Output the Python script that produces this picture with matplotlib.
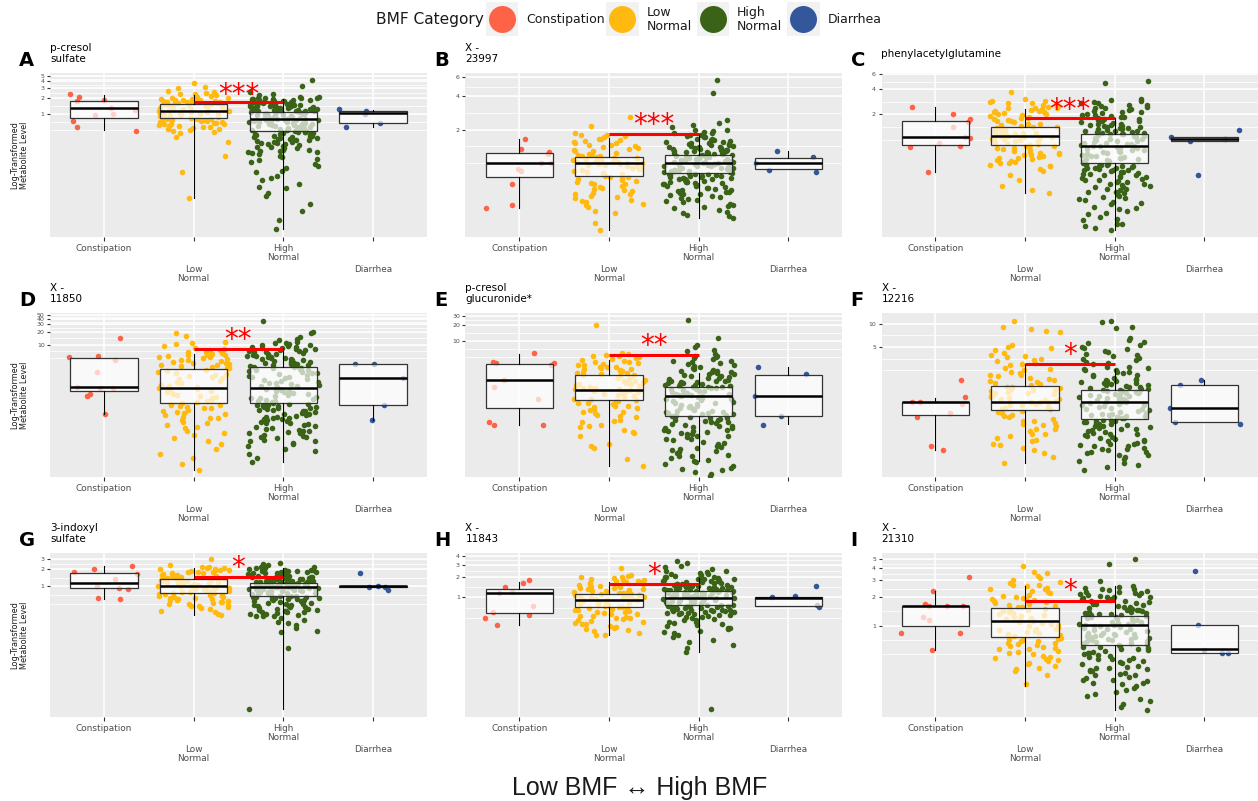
import numpy as np
import matplotlib
matplotlib.use("Agg")
import matplotlib.pyplot as plt
from matplotlib.patches import Rectangle
from matplotlib.ticker import NullLocator
from matplotlib.transforms import offset_copy


def vals(text):
    return [float(v) for v in text.split()]


group_names = ["Constipation", "Low\nNormal", "High\nNormal", "Diarrhea"]
group_colors = ["#FF6347", "#FFB90F", "#3A6317", "#33579A"]

panel_letters = list("ABCDEFGHI")
panel_titles = ["p-cresol\nsulfate", "X -\n23997", "phenylacetylglutamine",
                "X -\n11850", "p-cresol\nglucuronide*", "X -\n12216",
                "3-indoxyl\nsulfate", "X -\n11843", "X -\n21310"]
y_ticks = [[1, 2, 3, 4, 5], [2, 4, 6], [2, 4, 6], [10, 20, 30, 40, 50], [10, 20, 30],
           [5, 10], [1, 2, 3], [1, 2, 3, 4], [1, 2, 3, 4, 5]]
y_limits = [(0.0054, 5.65), (0.216, 6.45), (0.070, 6.14), (0.009, 54), (0.029, 33),
            (0.105, 13.7), (0.0054, 3.74), (0.018, 4.38), (0.11, 5.75)]
sig_levels = [1.67, 1.83, 1.79, 7.9, 5.45, 3.05, 1.43, 1.56, 1.83]
star_levels = [3.07, 2.53, 2.75, 18.6, 10.7, 4.85, 2.75, 2.7, 2.72]
star_labels = ["***", "***", "***", "**", "**", "*", "*", "*", "*"]

# ---- A: p-cresol sulfate ----
con_A = [1.76, 1.81, 1.27, 2.31, 2.03, 1.2, 0.75, 0.57, 0.49, 1.0, 0.95]
low_A = vals("3.8 3.2 3.0 2.7 2.5 2.4 2.3 2.2 2.1 2.0 2.0 1.95 1.9 1.85 1.8 1.8 1.75 1.7 1.65 1.6 1.58 1.55 "
             "1.5 1.47 1.45 1.41 1.39 1.36 1.33 1.31 1.28 1.26 1.24 1.21 1.19 1.17 1.15 1.14 1.12 1.1 1.08 1.06 "
             "1.04 1.02 1.0 0.98 0.96 0.94 0.92 0.9 0.87 0.85 "
             "0.82 0.8 0.78 0.76 0.74 0.72 0.7 0.68 0.66 0.64 0.62 0.6 0.58 0.55 0.52 0.48 0.44 0.38 0.3 0.17 0.086 0.028 "
             "2.35 2.15 1.92 1.77 1.68 1.62 1.57 1.53 0.81 0.77 0.73 0.69 0.65 0.61 0.57 0.53 0.5 0.46")
high_A = vals("4.25 3.3 2.6 2.3 2.2 2.1 2.0 2.0 1.9 1.9 1.85 1.8 1.8 1.75 1.7 1.7 1.65 1.6 1.6 1.55 1.5 1.5 1.45 "
              "1.45 1.4 1.4 1.35 1.35 1.3 1.3 1.28 1.25 1.22 1.2 1.18 1.16 1.15 1.13 1.12 1.11 "
              "1.09 1.07 1.06 1.04 1.02 1.01 0.99 0.97 0.96 0.94 0.93 0.91 0.9 0.88 0.87 0.86 0.84 0.83 0.82 0.81 "
              "0.8 0.79 0.78 0.77 0.76 0.75 0.74 0.72 0.71 0.7 0.69 0.68 0.67 0.66 0.65 0.64 0.63 0.62 0.61 0.6 "
              "0.59 0.58 0.57 0.56 0.55 0.54 0.53 0.52 0.51 0.5 "
              "0.48 0.47 0.46 0.45 0.44 0.42 0.41 0.4 0.38 0.37 0.36 0.35 0.33 0.32 0.3 0.29 0.28 0.26 0.25 0.24 "
              "0.22 0.21 0.2 0.19 0.17 0.15 0.13 0.11 0.1 0.085 0.07 0.06 0.05 0.042 0.035 0.03 0.022 0.016 0.011 0.0074 "
              "2.05 1.95 1.88 1.82 1.78 1.72 1.68 1.62 1.58 1.52 1.48 1.42 1.38 1.33 1.27 1.24 1.21 1.19 1.17 "
              "1.14 1.12 1.98 1.76 1.57 1.34 1.26 "
              "0.485 0.47 0.455 0.43 0.415 0.39 0.375 0.355 0.34 0.325 0.31 0.295 0.275 0.265 0.245 0.235 0.215 "
              "0.205 0.195 0.18 0.16 0.14 0.12 0.09 0.065 0.045")
dia_A = [0.69, 1.15, 0.57, 1.22, 1.0]
box_A = [(0.51, 0.83, 1.27, 1.76, 2.24), (0.028, 0.83, 1.14, 1.51, 2.24),
         (0.0074, 0.49, 0.8, 1.1, 1.9), (0.58, 0.69, 1.03, 1.14, 1.19)]

# ---- B: X - 23997 ----
con_B = [1.64, 1.33, 1.2, 1.26, 0.99, 0.99, 0.88, 0.84, 0.65, 0.42, 0.39]
low_B = vals("2.6 2.15 1.85 1.8 1.75 1.7 1.66 1.62 1.58 1.55 1.5 1.46 1.42 1.38 1.34 1.3 1.27 1.24 1.21 1.18 1.16 1.15 "
             "1.13 1.12 1.11 1.1 1.09 1.08 1.07 1.06 1.05 1.04 1.03 1.02 1.01 1.0 0.99 0.98 0.97 0.96 0.95 0.94 "
             "0.93 0.91 0.9 0.88 0.87 0.85 0.83 0.81 0.79 0.77 "
             "0.75 0.74 0.72 0.7 0.68 0.66 0.64 0.62 0.6 0.58 0.56 0.54 0.52 0.5 0.48 0.46 0.45 0.43 0.4 0.37 0.35 0.29 0.25 "
             "1.78 1.64 1.52 1.44 1.36 1.28 1.2 0.73 0.69 0.65 0.61 0.57 0.53 0.49 0.44 0.42")
high_B = vals("5.6 4.3 2.44 2.3 2.2 2.1 2.0 1.95 1.9 1.85 1.8 1.75 1.7 1.66 1.62 1.58 1.55 1.52 1.49 1.46 1.43 1.4 "
              "1.38 1.36 1.34 1.32 1.3 1.28 1.26 1.24 1.22 1.2 1.19 1.18 "
              "1.16 1.15 1.14 1.13 1.13 1.12 1.11 1.1 1.1 1.09 1.08 1.07 1.07 1.06 1.05 1.04 1.04 1.03 1.02 1.01 "
              "1.0 1.0 0.99 0.98 0.97 0.97 0.96 0.95 0.94 0.93 0.93 0.92 0.91 0.9 0.9 0.89 0.88 0.87 0.87 0.86 "
              "0.85 0.85 0.84 0.83 0.83 "
              "0.81 0.8 0.79 0.78 0.77 0.76 0.75 0.74 0.73 0.72 0.71 0.7 0.69 0.68 0.67 0.66 0.65 0.64 0.62 0.61 "
              "0.6 0.58 0.57 0.56 0.55 0.54 0.52 0.5 0.49 0.48 0.46 0.45 0.44 0.42 0.41 0.4 0.38 0.36 0.34 0.32 "
              "1.98 1.88 1.78 1.72 1.64 1.6 1.56 1.5 1.47 1.44 1.41 1.39 1.37 1.33 1.31 1.29 1.27 1.25 1.23 1.21 "
              "1.2 1.18 0.815 0.79 0.775 0.755 0.735 0.715 0.695 0.675 0.655 0.635 0.615 0.59 0.565 0.545 0.53 "
              "0.51 0.47 0.43 0.39 0.35 0.33")
dia_B = [1.29, 1.13, 0.99, 0.83, 0.87]
box_B = [(0.39, 0.74, 0.99, 1.22, 1.64), (0.25, 0.76, 0.99, 1.14, 1.67),
         (0.32, 0.82, 0.99, 1.17, 1.83), (0.88, 0.88, 0.99, 1.12, 1.29)]

# ---- C: phenylacetylglutamine ----
con_C = [2.47, 2.02, 1.75, 1.62, 1.41, 1.08, 1.04, 0.92, 0.81, 0.83, 0.41]
low_C = vals("3.7 3.0 2.9 2.8 2.75 2.7 2.6 2.5 2.45 2.4 2.35 2.3 2.25 2.2 2.15 2.1 2.05 2.0 1.95 1.9 1.85 1.8 1.75 "
             "1.7 1.65 1.6 1.55 1.5 1.46 "
             "1.42 1.4 1.37 1.35 1.33 1.31 1.29 1.27 1.25 1.23 1.21 1.19 1.17 1.15 1.13 1.11 1.1 1.08 1.06 1.05 "
             "1.03 1.01 1.0 0.98 0.96 0.95 0.93 0.91 0.89 0.87 "
             "0.85 0.83 0.8 0.78 0.75 0.72 0.7 0.68 0.66 0.64 0.62 0.6 0.58 0.56 0.54 0.52 0.5 0.48 0.45 0.42 "
             "0.38 0.33 0.28 0.25 0.23 "
             "2.85 2.65 2.4 2.2 2.0 1.82 1.68 1.52 0.84 0.79 0.74 0.69 0.65 0.61 0.57 0.53 0.49")
high_C = vals("5.0 4.7 3.0 2.9 2.8 2.7 2.6 2.5 2.45 2.4 2.3 2.25 2.2 2.1 2.05 2.0 1.95 1.9 1.85 1.8 1.75 1.7 1.65 "
              "1.6 1.55 1.5 1.48 1.45 1.42 1.4 1.37 1.34 1.31 1.28 1.25 1.22 1.2 1.18 "
              "1.15 1.13 1.11 1.09 1.07 1.05 1.03 1.01 0.99 0.97 0.96 0.94 0.92 0.91 0.89 0.88 0.86 0.85 0.84 "
              "0.83 0.82 0.8 0.79 0.78 0.76 0.75 0.74 0.72 0.71 0.7 0.68 0.67 0.66 0.64 0.63 0.62 0.61 0.6 0.59 "
              "0.58 0.57 0.56 0.55 0.54 0.53 "
              "0.51 0.5 0.49 0.48 0.47 0.46 0.45 0.44 0.43 0.42 0.41 0.4 0.39 0.38 0.37 0.36 0.35 0.34 0.33 0.32 "
              "0.31 0.3 0.29 0.28 0.27 0.26 0.25 0.24 0.23 0.22 0.21 0.2 0.19 0.18 0.17 0.16 0.15 0.14 0.13 0.12 "
              "0.11 0.1 0.095 0.09 0.084 "
              "2.95 2.75 2.55 2.35 2.15 1.98 1.88 1.78 1.68 1.58 1.52 1.46 1.38 1.32 1.26 1.23 1.19 1.17 "
              "0.515 0.505 0.495 0.485 0.465 0.455 0.435 0.415 0.395 0.375 0.355 0.335 0.315 0.295 0.275 0.255 "
              "0.235 0.215 0.195 0.175 0.155 0.135 0.115 0.1")
dia_C = [1.31, 1.07, 0.95, 0.38, 1.03]
box_C = [(0.41, 0.87, 1.08, 1.67, 2.47), (0.23, 0.86, 1.11, 1.43, 2.32),
         (0.084, 0.52, 0.83, 1.16, 1.8), (0.97, 0.97, 1.02, 1.07, 1.07)]

# ---- D: X - 11850 ----
con_D = [14.8, 5.5, 5.4, 4.5, 2.4, 1.05, 1.0, 1.0, 0.72, 0.66, 0.25]
low_D = vals("19 16.2 11.9 10.9 10.5 8.5 8 7.5 7 6.5 6.2 6 5.8 5.5 5.2 5 4.8 4.5 4.3 4 3.8 3.6 3.4 3.2 3.0 2.9 "
             "2.7 2.55 2.4 2.25 2.1 2.0 1.9 1.8 1.7 1.6 1.5 1.4 1.3 1.2 1.1 1.05 1.0 0.95 0.9 0.85 0.8 0.75 0.7 "
             "0.66 0.62 0.58 0.54 0.51 0.48 0.46 "
             "0.44 0.4 0.37 0.34 0.3 0.27 0.24 0.22 0.2 0.18 0.16 0.14 0.12 0.1 0.085 0.07 0.06 0.05 0.04 0.03 "
             "0.025 0.018 0.013 "
             "9.5 7.8 6.8 5.9 5.3 4.6 3.9 3.5 3.1 0.42 0.38 0.35 0.32 0.28 0.25 0.21 0.17 0.13 0.09")
high_D = vals("36.6 19.6 18.6 15.6 14 12 11.3 10.5 10 9.5 9 8.6 8.2 7.8 7.5 7.2 6.9 6.6 6.3 6 5.7 5.4 5.1 4.9 "
              "4.7 4.5 4.3 4.1 3.9 3.7 3.5 3.4 3.3 3.2 3.1 "
              "3.0 2.9 2.8 2.7 2.6 2.5 2.4 2.3 2.2 2.1 2.0 1.9 1.85 1.8 1.7 1.6 1.55 1.5 1.4 1.35 1.3 1.25 1.2 "
              "1.15 1.1 1.05 1.0 0.96 0.92 0.88 0.84 0.8 0.76 0.73 0.7 0.67 0.64 0.61 0.58 0.56 0.54 0.52 0.5 "
              "0.48 0.46 "
              "0.44 0.42 0.4 0.38 0.36 0.34 0.32 0.3 0.28 0.26 0.24 0.22 0.21 0.2 0.19 0.18 0.17 0.16 0.15 0.14 "
              "0.13 0.12 0.11 0.1 0.095 0.09 0.085 0.08 0.075 0.07 0.065 0.06 0.055 0.05 0.045 0.04 0.035 0.03 "
              "0.025 0.02 "
              "13 11 9.8 9.2 8.4 7.9 7.3 6.8 6.1 5.6 5.2 4.8 4.4 4.0 3.8 3.6 3.35 3.15 "
              "0.43 0.41 0.39 0.37 0.35 0.33 0.31 0.29 0.27 0.25 0.23 0.215 0.195 0.175 0.155 0.135 0.115 0.105 "
              "0.09 0.075 0.06")
dia_D = [3.6, 3.6, 1.7, 0.4, 0.18]
box_D = [(0.25, 0.86, 1.08, 4.9, 5.1), (0.013, 0.45, 0.99, 2.78, 6.1),
         (0.02, 0.45, 0.99, 3.04, 8.4), (0.18, 0.4, 1.7, 3.6, 3.6)]

# ---- E: p-cresol glucuronide* ----
con_E = [5.9, 3.8, 3.5, 3.8, 4.0, 1.85, 1.38, 0.83, 0.27, 0.27, 0.3]
low_E = vals("19.6 6.0 5.8 5.5 5.2 5.0 4.8 4.5 4.3 4.1 3.9 3.7 3.5 3.3 3.2 3.1 3.0 2.9 2.8 2.7 2.6 2.5 2.4 "
             "2.28 2.2 2.1 2.0 1.95 1.9 1.8 1.75 1.7 1.65 1.6 1.55 1.5 1.45 1.4 1.35 1.3 1.27 1.24 1.21 1.18 "
             "1.15 1.1 1.05 1.0 0.96 0.92 0.88 0.84 0.81 "
             "0.78 0.74 0.7 0.66 0.62 0.58 0.55 0.52 0.48 0.45 0.42 0.38 0.34 0.3 0.27 0.25 0.22 0.19 0.17 0.12 "
             "0.11 0.1 0.062 0.046 "
             "5.3 4.7 4.0 3.6 3.25 2.95 2.75 2.55 2.35 0.76 0.68 0.6 0.53 0.47 0.4 0.32 0.26 0.2")
high_E = vals("24.8 11.2 8.4 7.7 6.7 6.5 5.3 5.2 5.0 4.6 4.3 4.0 3.7 3.5 3.3 3.1 2.9 2.7 2.6 2.5 2.4 2.3 2.2 "
              "2.1 2.0 1.9 1.85 1.8 1.75 1.7 1.65 1.6 1.55 1.5 1.45 1.4 "
              "1.36 1.33 1.3 1.27 1.24 1.21 1.18 1.15 1.12 1.09 1.06 1.03 1.0 0.98 0.96 0.94 0.92 0.9 0.87 0.84 "
              "0.81 0.78 0.75 0.72 0.7 0.68 0.66 0.64 0.62 0.6 0.58 0.56 0.54 0.52 0.5 0.49 0.48 0.47 0.46 0.45 "
              "0.44 0.43 0.42 0.41 0.4 "
              "0.38 0.36 0.34 0.32 0.3 0.28 0.26 0.25 0.24 0.22 0.21 0.2 0.19 0.18 0.17 0.16 0.15 0.14 0.13 0.12 "
              "0.11 0.1 0.095 0.09 0.085 0.08 0.075 0.07 0.065 0.06 0.055 0.05 0.045 0.042 0.04 0.038 0.035 "
              "0.032 0.03 "
              "5.6 4.8 4.2 3.8 3.4 3.0 2.8 2.65 2.45 2.25 2.05 1.95 1.82 1.72 1.62 1.52 1.47 1.42 1.39 "
              "0.385 0.37 0.35 0.33 0.31 0.29 0.27 0.255 0.235 0.215 0.205 0.185 0.165 0.145 0.125 0.105 0.088 "
              "0.072 0.058")
dia_E = [3.2, 2.4, 0.92, 0.4, 0.27]
box_E = [(0.27, 0.56, 1.85, 3.74, 5.8), (0.046, 0.8, 1.23, 2.3, 4.4),
         (0.057, 0.39, 0.92, 1.37, 2.54), (0.28, 0.4, 0.92, 2.36, 3.3)]

# ---- F: X - 12216 ----
con_F = [1.86, 1.14, 0.97, 0.93, 0.97, 0.71, 0.62, 0.26, 0.23]
low_F = vals("10.8 9.1 8.6 8.2 7.8 5.4 5.0 4.6 4.2 3.9 3.7 3.5 3.3 3.1 2.9 2.7 2.5 2.3 2.2 2.1 2.0 1.9 1.8 1.7 1.6 "
             "1.54 1.5 1.47 1.44 1.41 1.38 1.35 1.32 1.29 1.26 1.23 1.2 1.17 1.14 1.11 1.08 1.05 1.02 1.0 0.98 "
             "0.97 0.96 0.94 0.92 0.9 0.88 0.85 0.82 0.8 0.78 "
             "0.74 0.7 0.66 0.62 0.58 0.55 0.52 0.5 0.47 0.44 0.41 0.38 0.35 0.33 0.3 0.28 0.25 0.23 0.21 0.19 0.156 "
             "4.8 3.8 3.4 3.0 2.6 2.4 2.15 1.95 1.75 1.65 0.72 0.64 0.56 0.49 0.43 0.37 0.31 0.27")
high_F = vals("10.8 10.5 9.0 8.8 6.6 6.2 5.8 5.4 5.0 4.7 4.4 4.1 3.8 3.6 3.4 3.2 3.0 2.8 2.7 2.6 2.5 2.4 2.3 "
              "2.2 2.1 2.0 1.9 1.85 1.8 1.75 1.7 1.65 1.6 1.55 1.5 1.45 1.4 "
              "1.37 1.34 1.32 1.3 1.28 1.26 1.24 1.22 1.2 1.18 1.16 1.14 1.12 1.1 1.08 1.06 1.04 1.02 1.0 0.98 "
              "0.97 0.96 0.94 0.92 0.9 0.88 0.86 0.84 0.82 0.8 0.78 0.76 0.74 0.72 0.7 0.69 0.68 0.67 0.66 0.65 "
              "0.64 0.63 0.62 0.61 0.6 "
              "0.57 0.55 0.53 0.51 0.49 0.47 0.45 0.43 0.41 0.39 0.37 0.35 0.33 0.31 0.3 0.29 0.28 0.27 0.26 "
              "0.25 0.24 0.23 0.22 0.21 0.2 0.19 0.18 0.17 0.16 0.15 0.14 0.13 "
              "5.6 4.9 4.3 3.9 3.5 3.1 2.9 2.75 2.55 2.35 2.15 1.95 1.82 1.72 1.62 1.52 1.47 1.42 1.39 "
              "0.575 0.56 0.54 0.52 0.5 0.48 0.46 0.44 0.42 0.4 0.38 0.36 0.34 0.32 0.3 0.28 0.26 0.24 0.22 0.2")
dia_F = [1.9, 1.64, 0.81, 0.5, 0.54]
box_F = [(0.23, 0.67, 0.96, 0.97, 1.11), (0.16, 0.76, 0.97, 1.55, 3.0),
         (0.128, 0.58, 0.97, 1.38, 2.6), (0.54, 0.54, 0.81, 1.64, 1.9)]

# ---- G: 3-indoxyl sulfate ----
con_G = [2.29, 2.0, 1.8, 1.62, 1.34, 1.01, 0.9, 0.95, 0.62, 0.6]
low_G = vals("2.95 2.3 2.2 2.1 2.05 2.0 1.95 1.9 1.85 1.8 1.75 1.7 1.65 1.6 1.55 1.5 1.45 1.42 1.4 1.37 1.35 1.33 "
             "1.31 1.29 1.27 1.25 1.23 1.21 1.19 1.17 1.15 1.13 1.11 1.09 1.07 1.05 1.03 1.02 1.01 1.0 0.98 0.96 "
             "0.94 0.92 0.9 0.88 0.86 0.84 0.82 0.8 0.78 0.77 "
             "0.75 0.73 0.71 0.69 0.67 0.65 0.63 0.61 0.59 0.57 0.55 0.53 0.51 0.49 0.47 0.45 0.43 0.4 0.37 "
             "0.35 0.33 0.32 "
             "2.12 1.98 1.88 1.78 1.68 1.58 1.48 1.43 1.38 1.34 0.74 0.7 0.66 0.62 0.58 0.54 0.5 0.46 0.42")
high_G = vals("2.58 2.4 2.35 2.2 2.1 2.0 1.95 1.9 1.85 1.8 1.75 1.7 1.65 1.6 1.55 1.5 1.47 1.44 1.41 1.38 1.35 "
              "1.32 1.3 1.28 1.26 1.24 1.22 1.2 1.18 1.17 "
              "1.15 1.14 1.13 1.12 1.11 1.1 1.09 1.08 1.07 1.06 1.05 1.04 1.03 1.02 1.01 1.0 0.99 0.98 0.97 "
              "0.96 0.96 0.95 0.94 0.93 0.92 0.91 0.9 0.89 0.88 0.87 0.86 0.85 0.84 0.83 0.82 0.81 0.8 0.79 "
              "0.77 0.76 0.75 0.73 0.72 0.7 0.69 "
              "0.67 0.65 0.63 0.61 0.59 0.57 0.55 0.53 0.51 0.49 0.47 0.45 0.43 0.41 0.4 0.38 0.37 0.36 0.35 "
              "0.34 0.33 0.32 0.31 0.3 0.28 0.26 0.24 0.23 0.21 0.19 0.17 0.16 0.086 0.0073 "
              "2.15 2.05 1.97 1.92 1.87 1.82 1.77 1.72 1.67 1.62 1.57 1.52 1.48 1.45 1.42 1.39 1.36 1.33 1.29 "
              "1.27 1.25 1.23 1.21 1.19 "
              "0.675 0.66 0.64 0.62 0.6 0.58 0.56 0.54 0.52 0.5 0.48 0.46 0.44 0.42 0.39 0.37 0.35 0.33 0.31")
dia_G = [1.73, 1.01, 0.99, 0.86, 0.99]
box_G = [(0.6, 0.92, 1.16, 1.68, 2.26), (0.32, 0.76, 1.01, 1.32, 2.05),
         (0.0073, 0.68, 0.96, 1.16, 2.05), (0.99, 0.99, 1.0, 1.01, 1.01)]

# ---- H: X - 11843 ----
con_H = [1.79, 1.6, 1.4, 1.14, 1.21, 0.75, 0.6, 0.55, 0.5, 0.39]
low_H = vals("2.65 2.1 2.05 1.95 1.85 1.8 1.75 1.7 1.65 1.6 1.55 1.5 1.45 1.42 1.38 1.35 1.32 1.28 1.25 1.22 "
             "1.19 1.16 1.14 "
             "1.11 1.1 1.09 1.08 1.06 1.05 1.04 1.02 1.01 1.0 0.98 0.97 0.95 0.94 0.93 0.92 0.91 0.9 0.88 0.87 "
             "0.85 0.84 0.82 0.81 0.79 0.78 0.76 0.75 0.73 0.72 "
             "0.7 0.68 0.66 0.64 0.62 0.6 0.58 0.56 0.54 0.52 0.5 0.48 0.46 0.44 0.42 0.4 0.38 0.36 0.34 0.32 "
             "0.3 0.28 0.28 "
             "2.0 1.9 1.78 1.68 1.58 1.48 1.4 1.3 1.2 0.69 0.65 0.61 0.57 0.53 0.49 0.45 0.41 0.37 0.33")
high_H = vals("3.42 3.2 2.86 2.75 2.6 2.45 2.3 2.2 2.1 2.0 1.95 1.9 1.85 1.8 1.75 1.7 1.65 1.6 1.58 1.55 1.52 "
              "1.5 1.47 1.44 1.42 1.4 1.38 1.36 1.34 1.32 1.3 1.28 1.27 1.26 "
              "1.24 1.23 1.22 1.21 1.2 1.19 1.18 1.17 1.16 1.15 1.14 1.13 1.12 1.11 1.1 1.09 1.08 1.07 1.06 "
              "1.05 1.04 1.03 1.02 1.01 1.0 0.99 0.98 0.97 0.96 0.95 0.94 0.93 0.92 0.91 0.9 0.89 0.88 0.87 "
              "0.86 0.85 0.84 0.82 0.81 0.79 0.78 "
              "0.76 0.75 0.74 0.72 0.71 0.7 0.68 0.67 0.66 0.64 0.63 0.62 0.6 0.59 0.58 0.56 0.55 0.54 0.52 "
              "0.5 0.48 0.46 0.44 0.42 0.4 0.38 0.36 0.34 0.32 0.3 0.28 0.26 0.24 0.22 0.2 0.18 0.16 0.023 "
              "2.4 2.25 2.15 2.05 1.98 1.92 1.87 1.82 1.77 1.72 1.67 1.62 1.57 1.53 1.49 1.45 1.41 1.37 1.33 "
              "1.29 1.27 "
              "0.765 0.745 0.73 0.715 0.69 0.675 0.655 0.645 0.625 0.605 0.585 0.565 0.545 0.51 0.47 0.43 0.39 "
              "0.35 0.31")
dia_H = [1.48, 1.05, 1.0, 0.76, 0.71]
box_H = [(0.39, 0.58, 1.17, 1.31, 1.69), (0.28, 0.71, 0.91, 1.12, 1.65),
         (0.16, 0.77, 0.99, 1.25, 1.93), (0.75, 0.75, 0.99, 1.02, 1.02)]

# ---- I: X - 21310 ----
con_I = [3.22, 2.31, 1.61, 1.61, 1.6, 1.67, 1.22, 1.13, 0.84, 0.84, 0.55]
low_I = vals("4.27 3.69 3.6 3.14 3.0 2.8 2.7 2.6 2.5 2.4 2.3 2.2 2.1 2.0 1.95 1.9 1.85 1.8 1.75 1.7 1.65 1.6 1.56 "
             "1.51 1.48 1.45 1.42 1.39 1.36 1.33 1.3 1.27 1.24 1.21 1.18 1.15 1.13 1.12 1.1 1.07 1.04 1.01 0.98 "
             "0.95 0.93 0.91 0.89 0.87 0.85 0.83 0.81 0.79 0.77 "
             "0.74 0.72 0.7 0.68 0.66 0.64 0.62 0.6 0.58 0.56 0.54 0.52 0.5 0.48 0.46 0.44 0.42 0.4 0.38 0.36 "
             "0.33 0.3 0.24 "
             "3.3 2.9 2.65 2.45 2.25 2.05 1.88 1.72 1.58 0.73 0.69 0.65 0.61 0.57 0.53 0.47 0.43 0.39 0.35")
high_I = vals("4.97 4.4 2.97 2.6 2.5 2.4 2.3 2.25 2.2 2.15 2.1 2.05 2.0 1.95 1.9 1.85 1.8 1.75 1.7 1.65 1.6 1.55 "
              "1.5 1.47 1.44 1.41 1.38 1.35 1.32 1.3 1.28 "
              "1.26 1.24 1.22 1.2 1.18 1.16 1.14 1.12 1.1 1.08 1.06 1.04 1.03 1.02 1.01 1.0 0.99 0.97 0.95 0.93 "
              "0.91 0.89 0.87 0.85 0.84 0.83 0.82 0.81 0.8 0.79 0.78 0.77 0.76 0.75 0.74 0.73 0.72 0.71 0.7 0.69 "
              "0.68 0.67 0.66 0.65 0.64 "
              "0.62 0.6 0.58 0.56 0.55 0.54 0.52 0.5 0.49 0.48 0.46 0.45 0.44 0.42 0.41 0.4 0.38 0.37 0.36 0.35 "
              "0.34 0.33 0.32 0.31 0.3 0.29 0.28 0.27 0.26 0.25 0.24 0.23 0.21 0.19 0.17 0.15 0.14 0.13 "
              "2.55 2.45 2.35 2.28 2.18 2.12 2.02 1.98 1.88 1.82 1.72 1.68 1.58 1.52 1.46 1.4 1.34 1.31 1.29 "
              "0.61 0.59 0.57 0.53 0.51 0.47 0.43 0.39 0.36 0.33 0.3 0.27 0.25 0.22 0.2 0.18 0.16")
dia_I = [3.78, 1.016, 0.52, 0.55, 0.51]
box_I = [(0.55, 0.99, 1.61, 1.61, 2.33), (0.23, 0.75, 1.12, 1.52, 2.61),
         (0.13, 0.63, 1.016, 1.27, 2.61), (0.52, 0.52, 0.56, 1.016, 1.016)]

panel_points = [(con_A, low_A, high_A, dia_A), (con_B, low_B, high_B, dia_B), (con_C, low_C, high_C, dia_C),
                (con_D, low_D, high_D, dia_D), (con_E, low_E, high_E, dia_E), (con_F, low_F, high_F, dia_F),
                (con_G, low_G, high_G, dia_G), (con_H, low_H, high_H, dia_H), (con_I, low_I, high_I, dia_I)]
panel_boxes = [box_A, box_B, box_C, box_D, box_E, box_F, box_G, box_H, box_I]


def minor_breaks(majors, lim):
    """Major breaks plus midpoints in log space, extended one step past the ends."""
    b = list(np.log(majors))
    step = b[1] - b[0]
    if np.log(lim[0]) < b[0]:
        b.insert(0, b[0] - step)
    if np.log(lim[1]) > b[-1]:
        b.append(b[-1] + step)
    out = []
    for a, z in zip(b[:-1], b[1:]):
        out += [a, (a + z) / 2]
    out.append(b[-1])
    return [np.exp(v) for v in out]


W, H = 1258, 801
fig = plt.figure(figsize=(W / 100, H / 100), dpi=100)
fig.patch.set_facecolor("white")

col_left = [50.2, 465.5, 881.5]
row_top = [73.3, 313.3, 553.3]
pw, ph = 376.5, 163.4

# horizontal jitter of the observations (vertical positions are the values themselves)
jitter = np.random.default_rng(11)

for k in range(9):
    r, c = divmod(k, 3)
    left, top = col_left[c], row_top[r]
    ax = fig.add_axes([left / W, 1 - (top + ph) / H, pw / W, ph / H])
    ax.set_facecolor("#EBEBEB")
    for s in ax.spines.values():
        s.set_visible(False)
    ax.set_yscale("log")
    ax.set_xlim(0.4, 4.6)
    lim = y_limits[k]
    ax.set_ylim(*lim)

    for v in minor_breaks(y_ticks[k], lim):
        if lim[0] <= v <= lim[1]:
            ax.axhline(v, color="white", lw=0.55, zorder=0.5)
    for v in y_ticks[k]:
        ax.axhline(v, color="white", lw=1.1, zorder=0.6)
    for xg in range(1, 5):
        ax.axvline(xg, color="white", lw=1.1, zorder=0.6)

    for g, pts in enumerate(panel_points[k]):
        xs = g + 1 + jitter.uniform(-0.4, 0.4, len(pts))
        ax.scatter(xs, pts, s=16, color=group_colors[g], linewidths=0, zorder=2)

    stats = [dict(whislo=b[0], q1=b[1], med=b[2], q3=b[3], whishi=b[4]) for b in panel_boxes[k]]
    ax.bxp(stats, positions=[1, 2, 3, 4], widths=0.75, patch_artist=True, showfliers=False,
           showcaps=False, manage_ticks=False, zorder=3,
           boxprops=dict(facecolor=(1, 1, 1, 0.7), edgecolor="#333333", linewidth=0.9),
           medianprops=dict(color="black", linewidth=1.8),
           whiskerprops=dict(color="black", linewidth=0.8))

    # significance bar between Low Normal and High Normal
    ax.plot([2, 3], [sig_levels[k]] * 2, color="#FF0000", lw=2.2, solid_capstyle="butt", zorder=4)
    ax.text(2.5, star_levels[k], star_labels[k], color="#FF0000", fontsize=20, ha="center",
            va="baseline", zorder=5,
            transform=offset_copy(ax.transData, fig=fig, y=-15, units="dots"))

    ax.set_xticks([1, 2, 3, 4])
    ax.set_xticklabels([])
    ax.tick_params(axis="x", length=3, width=0.8, color="#333333")
    for g in range(4):
        dy = -7 if g % 2 == 0 else -28
        ax.text(g + 1, 0, group_names[g], ha="center", va="top", fontsize=6.4, color="#4D4D4D",
                linespacing=1.0,
                transform=offset_copy(ax.get_xaxis_transform(), fig=fig, y=dy, units="dots"))

    ax.yaxis.set_minor_locator(NullLocator())
    ax.set_yticks(y_ticks[k])
    ax.set_yticklabels([str(t) for t in y_ticks[k]])
    ax.tick_params(axis="y", length=2.5, width=0.8, color="#333333", labelsize=4.5,
                   labelcolor="#4D4D4D", pad=1.5)

    fig.text(left / W, 1 - (top - 19.5) / H, panel_titles[k], fontsize=7.5, ha="left", va="center",
             linespacing=1.1, color="black")
    fig.text((left - 31) / W, 1 - (top - 7.3) / H, panel_letters[k], fontsize=14, fontweight="bold",
             ha="left", va="baseline")
    if c == 0:
        fig.text(19.5 / W, 1 - (top + ph / 2) / H, "Log-Transformed\nMetabolite Level", rotation=90,
                 fontsize=5.9, ha="center", va="center", linespacing=1.1, color="#1A1A1A")

# legend across the top
lax = fig.add_axes([0, 0, 1, 1])
lax.set_xlim(0, W)
lax.set_ylim(H, 0)
lax.axis("off")
lax.patch.set_alpha(0)
lax.text(376, 19.3, "BMF Category", fontsize=11.1, ha="left", va="center", color="#1A1A1A")
key_lefts = [485.7, 606, 696.7, 787]
for g in range(4):
    kl = key_lefts[g]
    lax.add_patch(Rectangle((kl, 1.7), 32.6, 34, facecolor="#F2F2F2", edgecolor="none"))
    lax.scatter([kl + 16.3], [18.7], s=377, color=group_colors[g], linewidths=0)
    lax.text(kl + 40.5, 19.3, group_names[g], fontsize=9, ha="left", va="center", linespacing=1.05,
             color="#1A1A1A")

fig.text(640 / W, 1 - 795 / H, "Low BMF \u2194 High BMF", fontsize=18, ha="center", va="baseline",
         family=["Liberation Sans", "DejaVu Sans"], color="#1A1A1A")

fig.savefig("out.png", dpi=100)
